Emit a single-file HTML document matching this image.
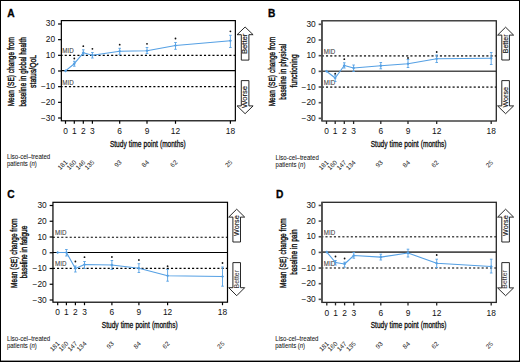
<!DOCTYPE html><html><head><meta charset="utf-8"><style>html,body{margin:0;padding:0;background:#fff;}svg{display:block;}</style></head><body>
<svg width="520" height="362" viewBox="0 0 520 362" font-family='"Liberation Sans", sans-serif'>
<rect x="0" y="0" width="520" height="362" fill="#000"/>
<rect x="1" y="1" width="518" height="359.6" fill="#fff"/>
<text x="7.2" y="16.8" font-size="10.2" font-weight="bold" fill="#000" stroke="#000" stroke-width="0.3">A</text>
<line x1="61.35" y1="55.3" x2="235.35" y2="55.3" stroke="#000" stroke-width="1.2" stroke-dasharray="2.1 2.12" stroke-dashoffset="0.85"/>
<text x="62.25" y="53.2" font-size="6.6" textLength="11.4" lengthAdjust="spacingAndGlyphs" fill="#333" stroke="#333" stroke-width="0.05">MID</text>
<line x1="61.35" y1="86.6" x2="235.35" y2="86.6" stroke="#000" stroke-width="1.2" stroke-dasharray="2.1 2.12" stroke-dashoffset="0.85"/>
<text x="62.25" y="84.5" font-size="6.6" textLength="11.4" lengthAdjust="spacingAndGlyphs" fill="#333" stroke="#333" stroke-width="0.05">MID</text>
<line x1="61.35" y1="70.65" x2="235.35" y2="70.65" stroke="#000" stroke-width="1.2"/>
<rect x="61.35" y="20.6" width="174" height="100.2" fill="none" stroke="#000" stroke-width="1.2"/>
<line x1="58.05" y1="23.99" x2="61.35" y2="23.99" stroke="#000" stroke-width="1.2"/>
<text x="55.15" y="26.49" font-size="8.4" text-anchor="end" fill="#111">30</text>
<line x1="58.05" y1="39.66" x2="61.35" y2="39.66" stroke="#000" stroke-width="1.2"/>
<text x="55.15" y="42.16" font-size="8.4" text-anchor="end" fill="#111">20</text>
<line x1="58.05" y1="55.33" x2="61.35" y2="55.33" stroke="#000" stroke-width="1.2"/>
<text x="55.15" y="57.83" font-size="8.4" text-anchor="end" fill="#111">10</text>
<line x1="58.05" y1="71" x2="61.35" y2="71" stroke="#000" stroke-width="1.2"/>
<text x="55.15" y="73.5" font-size="8.4" text-anchor="end" fill="#111">0</text>
<line x1="58.05" y1="86.67" x2="61.35" y2="86.67" stroke="#000" stroke-width="1.2"/>
<text x="55.15" y="89.17" font-size="8.4" text-anchor="end" fill="#111">−10</text>
<line x1="58.05" y1="102.34" x2="61.35" y2="102.34" stroke="#000" stroke-width="1.2"/>
<text x="55.15" y="104.84" font-size="8.4" text-anchor="end" fill="#111">−20</text>
<line x1="58.05" y1="118.01" x2="61.35" y2="118.01" stroke="#000" stroke-width="1.2"/>
<text x="55.15" y="120.51" font-size="8.4" text-anchor="end" fill="#111">−30</text>
<line x1="65.5" y1="120.8" x2="65.5" y2="123.8" stroke="#000" stroke-width="1.2"/>
<text x="65.5" y="133.9" font-size="8.4" text-anchor="middle" fill="#111">0</text>
<line x1="74.3" y1="120.8" x2="74.3" y2="123.8" stroke="#000" stroke-width="1.2"/>
<text x="74.3" y="133.9" font-size="8.4" text-anchor="middle" fill="#111">1</text>
<line x1="83.3" y1="120.8" x2="83.3" y2="123.8" stroke="#000" stroke-width="1.2"/>
<text x="83.3" y="133.9" font-size="8.4" text-anchor="middle" fill="#111">2</text>
<line x1="92.4" y1="120.8" x2="92.4" y2="123.8" stroke="#000" stroke-width="1.2"/>
<text x="92.4" y="133.9" font-size="8.4" text-anchor="middle" fill="#111">3</text>
<line x1="119.7" y1="120.8" x2="119.7" y2="123.8" stroke="#000" stroke-width="1.2"/>
<text x="119.7" y="133.9" font-size="8.4" text-anchor="middle" fill="#111">6</text>
<line x1="147" y1="120.8" x2="147" y2="123.8" stroke="#000" stroke-width="1.2"/>
<text x="147" y="133.9" font-size="8.4" text-anchor="middle" fill="#111">9</text>
<line x1="175.5" y1="120.8" x2="175.5" y2="123.8" stroke="#000" stroke-width="1.2"/>
<text x="175.5" y="133.9" font-size="8.4" text-anchor="middle" fill="#111">12</text>
<line x1="230.4" y1="120.8" x2="230.4" y2="123.8" stroke="#000" stroke-width="1.2"/>
<text x="230.4" y="133.9" font-size="8.4" text-anchor="middle" fill="#111">18</text>
<text x="109.9" y="146.6" font-size="9.8" textLength="16.85" lengthAdjust="spacingAndGlyphs" fill="#111" stroke="#111" stroke-width="0.35">Study</text>
<text x="128.85" y="146.6" font-size="9.8" textLength="12.6" lengthAdjust="spacingAndGlyphs" fill="#111" stroke="#111" stroke-width="0.35">time</text>
<text x="143.55" y="146.6" font-size="9.8" textLength="14.38" lengthAdjust="spacingAndGlyphs" fill="#111" stroke="#111" stroke-width="0.35">point</text>
<text x="160.03" y="146.6" font-size="9.8" textLength="25.67" lengthAdjust="spacingAndGlyphs" fill="#111" stroke="#111" stroke-width="0.35">(months)</text>
<text x="7.0" y="159.4" font-size="6.3" textLength="43.2" lengthAdjust="spacingAndGlyphs" fill="#111" stroke="#111" stroke-width="0.05">Liso-cel–treated</text>
<text x="7.0" y="166.4" font-size="6.3" textLength="29.8" lengthAdjust="spacingAndGlyphs" fill="#111" stroke="#111" stroke-width="0.05">patients (<tspan font-style="italic">n</tspan>)</text>
<text x="0" y="0" font-size="6.4" text-anchor="end" fill="#1a1a1a" transform="translate(67.9,162.7) rotate(-45)">181</text>
<text x="0" y="0" font-size="6.4" text-anchor="end" fill="#1a1a1a" transform="translate(76.7,162.7) rotate(-45)">160</text>
<text x="0" y="0" font-size="6.4" text-anchor="end" fill="#1a1a1a" transform="translate(85.7,162.7) rotate(-45)">146</text>
<text x="0" y="0" font-size="6.4" text-anchor="end" fill="#1a1a1a" transform="translate(94.8,162.7) rotate(-45)">135</text>
<text x="0" y="0" font-size="6.4" text-anchor="end" fill="#1a1a1a" transform="translate(122.1,162.7) rotate(-45)">93</text>
<text x="0" y="0" font-size="6.4" text-anchor="end" fill="#1a1a1a" transform="translate(149.4,162.7) rotate(-45)">84</text>
<text x="0" y="0" font-size="6.4" text-anchor="end" fill="#1a1a1a" transform="translate(177.9,162.7) rotate(-45)">62</text>
<text x="0" y="0" font-size="6.4" text-anchor="end" fill="#1a1a1a" transform="translate(232.8,162.7) rotate(-45)">25</text>
<text x="0" y="0" font-size="9.6" textLength="16.25" lengthAdjust="spacingAndGlyphs" fill="#111" stroke="#111" stroke-width="0.4" transform="translate(14.3,106.3) rotate(-90)">Mean</text>
<text x="0" y="0" font-size="9.6" textLength="13.11" lengthAdjust="spacingAndGlyphs" fill="#111" stroke="#111" stroke-width="0.4" transform="translate(14.3,88.15) rotate(-90)">(SE)</text>
<text x="0" y="0" font-size="9.6" textLength="21.13" lengthAdjust="spacingAndGlyphs" fill="#111" stroke="#111" stroke-width="0.4" transform="translate(14.3,73.14) rotate(-90)">change</text>
<text x="0" y="0" font-size="9.6" textLength="13.11" lengthAdjust="spacingAndGlyphs" fill="#111" stroke="#111" stroke-width="0.4" transform="translate(14.3,50.11) rotate(-90)">from</text>
<text x="0" y="0" font-size="9.6" textLength="23.56" lengthAdjust="spacingAndGlyphs" fill="#111" stroke="#111" stroke-width="0.4" transform="translate(26,106.4) rotate(-90)">baseline</text>
<text x="0" y="0" font-size="9.6" textLength="5.4" lengthAdjust="spacingAndGlyphs" fill="#111" stroke="#111" stroke-width="0.4" transform="translate(26,80.94) rotate(-90)">in</text>
<text x="0" y="0" font-size="9.6" textLength="17.05" lengthAdjust="spacingAndGlyphs" fill="#111" stroke="#111" stroke-width="0.4" transform="translate(26,73.64) rotate(-90)">global</text>
<text x="0" y="0" font-size="9.6" textLength="17.39" lengthAdjust="spacingAndGlyphs" fill="#111" stroke="#111" stroke-width="0.4" transform="translate(26,54.69) rotate(-90)">health</text>
<text x="0" y="0" font-size="9.6" textLength="33" lengthAdjust="spacingAndGlyphs" fill="#111" stroke="#111" stroke-width="0.4" transform="translate(36.3,87.9) rotate(-90)">status/QoL</text>
<path d="M245.1,27 L253.1,34.7 L248.9,34.7 L248.9,60.1 L241.3,60.1 L241.3,34.7 L237.1,34.7 Z" fill="#fff" stroke="#111" stroke-width="0.9" stroke-linejoin="miter"/>
<path d="M245.1,113.7 L253.1,105.9 L248.9,105.9 L248.9,80.6 L241.3,80.6 L241.3,105.9 L237.1,105.9 Z" fill="#fff" stroke="#111" stroke-width="0.9" stroke-linejoin="miter"/>
<text x="0" y="0" font-size="7" textLength="20.4" lengthAdjust="spacingAndGlyphs" fill="#111" stroke="#111" stroke-width="0.15" transform="translate(247,54) rotate(-90)">Better</text>
<text x="0" y="0" font-size="7" textLength="22" lengthAdjust="spacingAndGlyphs" fill="#111" stroke="#111" stroke-width="0.15" transform="translate(247,107.9) rotate(-90)">Worse</text>
<path d="M65.5,70.9 L74.3,63.7 L83.3,52.8 L92.4,55.2 L119.7,51.2 L147,50.7 L175.5,45.5 L230.4,40.75" fill="none" stroke="#55a0e4" stroke-width="1.1" stroke-linejoin="round"/>
<rect x="64.4" y="69.8" width="2.2" height="2.2" fill="#55a0e4" transform="rotate(45 65.5 70.9)"/>
<path d="M74.3,61.3 V66.2 M73,61.3 H75.6 M73,66.2 H75.6" stroke="#55a0e4" stroke-width="0.9" fill="none"/>
<rect x="73.2" y="62.6" width="2.2" height="2.2" fill="#55a0e4" transform="rotate(45 74.3 63.7)"/>
<path d="M83.3,49.8 V55 M82,49.8 H84.6 M82,55 H84.6" stroke="#55a0e4" stroke-width="0.9" fill="none"/>
<rect x="82.2" y="51.7" width="2.2" height="2.2" fill="#55a0e4" transform="rotate(45 83.3 52.8)"/>
<path d="M92.4,52.5 V58 M91.1,52.5 H93.7 M91.1,58 H93.7" stroke="#55a0e4" stroke-width="0.9" fill="none"/>
<rect x="91.3" y="54.1" width="2.2" height="2.2" fill="#55a0e4" transform="rotate(45 92.4 55.2)"/>
<path d="M119.7,48.3 V54.3 M118.4,48.3 H121 M118.4,54.3 H121" stroke="#55a0e4" stroke-width="0.9" fill="none"/>
<rect x="118.6" y="50.1" width="2.2" height="2.2" fill="#55a0e4" transform="rotate(45 119.7 51.2)"/>
<path d="M147,47.5 V53.5 M145.7,47.5 H148.3 M145.7,53.5 H148.3" stroke="#55a0e4" stroke-width="0.9" fill="none"/>
<rect x="145.9" y="49.6" width="2.2" height="2.2" fill="#55a0e4" transform="rotate(45 147 50.7)"/>
<path d="M175.5,42.5 V49.3 M174.2,42.5 H176.8 M174.2,49.3 H176.8" stroke="#55a0e4" stroke-width="0.9" fill="none"/>
<rect x="174.4" y="44.4" width="2.2" height="2.2" fill="#55a0e4" transform="rotate(45 175.5 45.5)"/>
<path d="M230.4,35.3 V47.5 M229.1,35.3 H231.7 M229.1,47.5 H231.7" stroke="#55a0e4" stroke-width="0.9" fill="none"/>
<rect x="229.3" y="39.65" width="2.2" height="2.2" fill="#55a0e4" transform="rotate(45 230.4 40.75)"/>
<circle cx="74.3" cy="58.5" r="0.9" fill="#111"/>
<circle cx="83.3" cy="46.2" r="0.9" fill="#111"/>
<circle cx="92.4" cy="48.8" r="0.9" fill="#111"/>
<circle cx="119.7" cy="44.7" r="0.9" fill="#111"/>
<circle cx="147" cy="43.8" r="0.9" fill="#111"/>
<circle cx="175.5" cy="38.5" r="0.9" fill="#111"/>
<circle cx="230.4" cy="31.3" r="0.9" fill="#111"/>
<text x="267.9" y="17.2" font-size="10.2" font-weight="bold" fill="#000" stroke="#000" stroke-width="0.3">B</text>
<line x1="321.95" y1="55.85" x2="496.3" y2="55.85" stroke="#4e4e4e" stroke-width="1.6" stroke-dasharray="2.1 2.12" stroke-dashoffset="0.2"/>
<text x="323.75" y="53.75" font-size="6.6" textLength="11.4" lengthAdjust="spacingAndGlyphs" fill="#333" stroke="#333" stroke-width="0.05">MID</text>
<line x1="321.95" y1="87.1" x2="496.3" y2="87.1" stroke="#4e4e4e" stroke-width="1.6" stroke-dasharray="2.1 2.12" stroke-dashoffset="0.2"/>
<text x="323.75" y="85" font-size="6.6" textLength="11.4" lengthAdjust="spacingAndGlyphs" fill="#333" stroke="#333" stroke-width="0.05">MID</text>
<line x1="321.95" y1="71.2" x2="496.3" y2="71.2" stroke="#4e4e4e" stroke-width="1.6"/>
<rect x="321.95" y="20.8" width="174.35" height="100.2" fill="none" stroke="#262626" stroke-width="1.3"/>
<line x1="321.95" y1="20.8" x2="321.95" y2="121" stroke="#4e4e4e" stroke-width="1.6"/>
<line x1="318.65" y1="24.34" x2="321.95" y2="24.34" stroke="#4e4e4e" stroke-width="1.6"/>
<text x="315.75" y="26.84" font-size="8.4" text-anchor="end" fill="#111">30</text>
<line x1="318.65" y1="40.01" x2="321.95" y2="40.01" stroke="#4e4e4e" stroke-width="1.6"/>
<text x="315.75" y="42.51" font-size="8.4" text-anchor="end" fill="#111">20</text>
<line x1="318.65" y1="55.68" x2="321.95" y2="55.68" stroke="#4e4e4e" stroke-width="1.6"/>
<text x="315.75" y="58.18" font-size="8.4" text-anchor="end" fill="#111">10</text>
<line x1="318.65" y1="71.35" x2="321.95" y2="71.35" stroke="#4e4e4e" stroke-width="1.6"/>
<text x="315.75" y="73.85" font-size="8.4" text-anchor="end" fill="#111">0</text>
<line x1="318.65" y1="87.02" x2="321.95" y2="87.02" stroke="#4e4e4e" stroke-width="1.6"/>
<text x="315.75" y="89.52" font-size="8.4" text-anchor="end" fill="#111">−10</text>
<line x1="318.65" y1="102.69" x2="321.95" y2="102.69" stroke="#4e4e4e" stroke-width="1.6"/>
<text x="315.75" y="105.19" font-size="8.4" text-anchor="end" fill="#111">−20</text>
<line x1="318.65" y1="118.36" x2="321.95" y2="118.36" stroke="#4e4e4e" stroke-width="1.6"/>
<text x="315.75" y="120.86" font-size="8.4" text-anchor="end" fill="#111">−30</text>
<line x1="326.5" y1="121" x2="326.5" y2="124" stroke="#262626" stroke-width="1.3"/>
<text x="326.5" y="134.1" font-size="8.4" text-anchor="middle" fill="#111">0</text>
<line x1="335.2" y1="121" x2="335.2" y2="124" stroke="#262626" stroke-width="1.3"/>
<text x="335.2" y="134.1" font-size="8.4" text-anchor="middle" fill="#111">1</text>
<line x1="344.3" y1="121" x2="344.3" y2="124" stroke="#262626" stroke-width="1.3"/>
<text x="344.3" y="134.1" font-size="8.4" text-anchor="middle" fill="#111">2</text>
<line x1="353.6" y1="121" x2="353.6" y2="124" stroke="#262626" stroke-width="1.3"/>
<text x="353.6" y="134.1" font-size="8.4" text-anchor="middle" fill="#111">3</text>
<line x1="380.8" y1="121" x2="380.8" y2="124" stroke="#262626" stroke-width="1.3"/>
<text x="380.8" y="134.1" font-size="8.4" text-anchor="middle" fill="#111">6</text>
<line x1="408" y1="121" x2="408" y2="124" stroke="#262626" stroke-width="1.3"/>
<text x="408" y="134.1" font-size="8.4" text-anchor="middle" fill="#111">9</text>
<line x1="436.7" y1="121" x2="436.7" y2="124" stroke="#262626" stroke-width="1.3"/>
<text x="436.7" y="134.1" font-size="8.4" text-anchor="middle" fill="#111">12</text>
<line x1="491.2" y1="121" x2="491.2" y2="124" stroke="#262626" stroke-width="1.3"/>
<text x="491.2" y="134.1" font-size="8.4" text-anchor="middle" fill="#111">18</text>
<text x="370.68" y="146.8" font-size="9.8" textLength="16.85" lengthAdjust="spacingAndGlyphs" fill="#111" stroke="#111" stroke-width="0.35">Study</text>
<text x="389.62" y="146.8" font-size="9.8" textLength="12.6" lengthAdjust="spacingAndGlyphs" fill="#111" stroke="#111" stroke-width="0.35">time</text>
<text x="404.33" y="146.8" font-size="9.8" textLength="14.38" lengthAdjust="spacingAndGlyphs" fill="#111" stroke="#111" stroke-width="0.35">point</text>
<text x="420.81" y="146.8" font-size="9.8" textLength="25.67" lengthAdjust="spacingAndGlyphs" fill="#111" stroke="#111" stroke-width="0.35">(months)</text>
<text x="275.6" y="159.6" font-size="6.3" textLength="43.2" lengthAdjust="spacingAndGlyphs" fill="#111" stroke="#111" stroke-width="0.05">Liso-cel–treated</text>
<text x="275.6" y="166.6" font-size="6.3" textLength="29.8" lengthAdjust="spacingAndGlyphs" fill="#111" stroke="#111" stroke-width="0.05">patients (<tspan font-style="italic">n</tspan>)</text>
<text x="0" y="0" font-size="6.4" text-anchor="end" fill="#1a1a1a" transform="translate(328.9,162.9) rotate(-45)">181</text>
<text x="0" y="0" font-size="6.4" text-anchor="end" fill="#1a1a1a" transform="translate(337.6,162.9) rotate(-45)">160</text>
<text x="0" y="0" font-size="6.4" text-anchor="end" fill="#1a1a1a" transform="translate(346.7,162.9) rotate(-45)">147</text>
<text x="0" y="0" font-size="6.4" text-anchor="end" fill="#1a1a1a" transform="translate(356,162.9) rotate(-45)">134</text>
<text x="0" y="0" font-size="6.4" text-anchor="end" fill="#1a1a1a" transform="translate(383.2,162.9) rotate(-45)">93</text>
<text x="0" y="0" font-size="6.4" text-anchor="end" fill="#1a1a1a" transform="translate(410.4,162.9) rotate(-45)">84</text>
<text x="0" y="0" font-size="6.4" text-anchor="end" fill="#1a1a1a" transform="translate(439.1,162.9) rotate(-45)">62</text>
<text x="0" y="0" font-size="6.4" text-anchor="end" fill="#1a1a1a" transform="translate(493.6,162.9) rotate(-45)">25</text>
<text x="0" y="0" font-size="9.6" textLength="16.28" lengthAdjust="spacingAndGlyphs" fill="#111" stroke="#111" stroke-width="0.4" transform="translate(275.4,106.3) rotate(-90)">Mean</text>
<text x="0" y="0" font-size="9.6" textLength="13.13" lengthAdjust="spacingAndGlyphs" fill="#111" stroke="#111" stroke-width="0.4" transform="translate(275.4,88.12) rotate(-90)">(SE)</text>
<text x="0" y="0" font-size="9.6" textLength="21.16" lengthAdjust="spacingAndGlyphs" fill="#111" stroke="#111" stroke-width="0.4" transform="translate(275.4,73.09) rotate(-90)">change</text>
<text x="0" y="0" font-size="9.6" textLength="13.13" lengthAdjust="spacingAndGlyphs" fill="#111" stroke="#111" stroke-width="0.4" transform="translate(275.4,50.03) rotate(-90)">from</text>
<text x="0" y="0" font-size="9.6" textLength="23.73" lengthAdjust="spacingAndGlyphs" fill="#111" stroke="#111" stroke-width="0.4" transform="translate(286.1,99.7) rotate(-90)">baseline</text>
<text x="0" y="0" font-size="9.6" textLength="5.43" lengthAdjust="spacingAndGlyphs" fill="#111" stroke="#111" stroke-width="0.4" transform="translate(286.1,74.07) rotate(-90)">in</text>
<text x="0" y="0" font-size="9.6" textLength="23.03" lengthAdjust="spacingAndGlyphs" fill="#111" stroke="#111" stroke-width="0.4" transform="translate(286.1,66.73) rotate(-90)">physical</text>
<text x="0" y="0" font-size="9.6" textLength="33.1" lengthAdjust="spacingAndGlyphs" fill="#111" stroke="#111" stroke-width="0.4" transform="translate(296.7,87.4) rotate(-90)">functioning</text>
<path d="M505.6,27.2 L513.6,35.1 L509.4,35.1 L509.4,60 L501.8,60 L501.8,35.1 L497.6,35.1 Z" fill="#fff" stroke="#111" stroke-width="0.9" stroke-linejoin="miter"/>
<path d="M505.6,113.7 L513.6,105.9 L509.4,105.9 L509.4,80.6 L501.8,80.6 L501.8,105.9 L497.6,105.9 Z" fill="#fff" stroke="#111" stroke-width="0.9" stroke-linejoin="miter"/>
<text x="0" y="0" font-size="7" textLength="18.8" lengthAdjust="spacingAndGlyphs" fill="#111" stroke="#111" stroke-width="0.15" transform="translate(507.5,53.3) rotate(-90)">Better</text>
<text x="0" y="0" font-size="7" textLength="20.6" lengthAdjust="spacingAndGlyphs" fill="#111" stroke="#111" stroke-width="0.15" transform="translate(507.5,107.6) rotate(-90)">Worse</text>
<path d="M326.5,71.2 L335.2,78 L344.3,65.5 L353.6,68 L380.8,65.75 L408,63.75 L436.7,58.75 L491.2,58.25" fill="none" stroke="#55a0e4" stroke-width="1.1" stroke-linejoin="round"/>
<rect x="325.4" y="70.1" width="2.2" height="2.2" fill="#55a0e4" transform="rotate(45 326.5 71.2)"/>
<path d="M335.2,75 V81.5 M333.9,75 H336.5 M333.9,81.5 H336.5" stroke="#55a0e4" stroke-width="0.9" fill="none"/>
<rect x="334.1" y="76.9" width="2.2" height="2.2" fill="#55a0e4" transform="rotate(45 335.2 78)"/>
<path d="M344.3,62.8 V68 M343,62.8 H345.6 M343,68 H345.6" stroke="#55a0e4" stroke-width="0.9" fill="none"/>
<rect x="343.2" y="64.4" width="2.2" height="2.2" fill="#55a0e4" transform="rotate(45 344.3 65.5)"/>
<path d="M353.6,65 V71.5 M352.3,65 H354.9 M352.3,71.5 H354.9" stroke="#55a0e4" stroke-width="0.9" fill="none"/>
<rect x="352.5" y="66.9" width="2.2" height="2.2" fill="#55a0e4" transform="rotate(45 353.6 68)"/>
<path d="M380.8,62.5 V68.8 M379.5,62.5 H382.1 M379.5,68.8 H382.1" stroke="#55a0e4" stroke-width="0.9" fill="none"/>
<rect x="379.7" y="64.65" width="2.2" height="2.2" fill="#55a0e4" transform="rotate(45 380.8 65.75)"/>
<path d="M408,59.5 V67.5 M406.7,59.5 H409.3 M406.7,67.5 H409.3" stroke="#55a0e4" stroke-width="0.9" fill="none"/>
<rect x="406.9" y="62.65" width="2.2" height="2.2" fill="#55a0e4" transform="rotate(45 408 63.75)"/>
<path d="M436.7,55 V62.5 M435.4,55 H438 M435.4,62.5 H438" stroke="#55a0e4" stroke-width="0.9" fill="none"/>
<rect x="435.6" y="57.65" width="2.2" height="2.2" fill="#55a0e4" transform="rotate(45 436.7 58.75)"/>
<path d="M491.2,52.5 V64.5 M489.9,52.5 H492.5 M489.9,64.5 H492.5" stroke="#55a0e4" stroke-width="0.9" fill="none"/>
<rect x="490.1" y="57.15" width="2.2" height="2.2" fill="#55a0e4" transform="rotate(45 491.2 58.25)"/>
<circle cx="335.2" cy="73.7" r="0.9" fill="#111"/>
<circle cx="344.3" cy="59.2" r="0.9" fill="#111"/>
<circle cx="408" cy="58" r="0.9" fill="#111"/>
<circle cx="436.7" cy="52" r="0.9" fill="#111"/>
<text x="7.3" y="198.1" font-size="10.2" font-weight="bold" fill="#000" stroke="#000" stroke-width="0.3">C</text>
<line x1="52.95" y1="237.25" x2="227.5" y2="237.25" stroke="#000" stroke-width="1.2" stroke-dasharray="2.1 2.12" stroke-dashoffset="0.15"/>
<text x="55.05" y="235.15" font-size="6.6" textLength="11.4" lengthAdjust="spacingAndGlyphs" fill="#333" stroke="#333" stroke-width="0.05">MID</text>
<line x1="52.95" y1="268.4" x2="227.5" y2="268.4" stroke="#000" stroke-width="1.2" stroke-dasharray="2.1 2.12" stroke-dashoffset="0.15"/>
<text x="55.05" y="266.3" font-size="6.6" textLength="11.4" lengthAdjust="spacingAndGlyphs" fill="#333" stroke="#333" stroke-width="0.05">MID</text>
<line x1="52.95" y1="252.5" x2="227.5" y2="252.5" stroke="#000" stroke-width="1.2"/>
<rect x="52.95" y="202.3" width="174.55" height="99.9" fill="none" stroke="#000" stroke-width="1.2"/>
<line x1="49.65" y1="205.5" x2="52.95" y2="205.5" stroke="#000" stroke-width="1.2"/>
<text x="46.75" y="208" font-size="8.4" text-anchor="end" fill="#111">30</text>
<line x1="49.65" y1="221.25" x2="52.95" y2="221.25" stroke="#000" stroke-width="1.2"/>
<text x="46.75" y="223.75" font-size="8.4" text-anchor="end" fill="#111">20</text>
<line x1="49.65" y1="237" x2="52.95" y2="237" stroke="#000" stroke-width="1.2"/>
<text x="46.75" y="239.5" font-size="8.4" text-anchor="end" fill="#111">10</text>
<line x1="49.65" y1="252.75" x2="52.95" y2="252.75" stroke="#000" stroke-width="1.2"/>
<text x="46.75" y="255.25" font-size="8.4" text-anchor="end" fill="#111">0</text>
<line x1="49.65" y1="268.5" x2="52.95" y2="268.5" stroke="#000" stroke-width="1.2"/>
<text x="46.75" y="271" font-size="8.4" text-anchor="end" fill="#111">−10</text>
<line x1="49.65" y1="284.25" x2="52.95" y2="284.25" stroke="#000" stroke-width="1.2"/>
<text x="46.75" y="286.75" font-size="8.4" text-anchor="end" fill="#111">−20</text>
<line x1="49.65" y1="300" x2="52.95" y2="300" stroke="#000" stroke-width="1.2"/>
<text x="46.75" y="302.5" font-size="8.4" text-anchor="end" fill="#111">−30</text>
<line x1="57.7" y1="302.2" x2="57.7" y2="305.2" stroke="#000" stroke-width="1.2"/>
<text x="57.7" y="315.3" font-size="8.4" text-anchor="middle" fill="#111">0</text>
<line x1="66.4" y1="302.2" x2="66.4" y2="305.2" stroke="#000" stroke-width="1.2"/>
<text x="66.4" y="315.3" font-size="8.4" text-anchor="middle" fill="#111">1</text>
<line x1="75.4" y1="302.2" x2="75.4" y2="305.2" stroke="#000" stroke-width="1.2"/>
<text x="75.4" y="315.3" font-size="8.4" text-anchor="middle" fill="#111">2</text>
<line x1="84.5" y1="302.2" x2="84.5" y2="305.2" stroke="#000" stroke-width="1.2"/>
<text x="84.5" y="315.3" font-size="8.4" text-anchor="middle" fill="#111">3</text>
<line x1="111.9" y1="302.2" x2="111.9" y2="305.2" stroke="#000" stroke-width="1.2"/>
<text x="111.9" y="315.3" font-size="8.4" text-anchor="middle" fill="#111">6</text>
<line x1="138.9" y1="302.2" x2="138.9" y2="305.2" stroke="#000" stroke-width="1.2"/>
<text x="138.9" y="315.3" font-size="8.4" text-anchor="middle" fill="#111">9</text>
<line x1="167.6" y1="302.2" x2="167.6" y2="305.2" stroke="#000" stroke-width="1.2"/>
<text x="167.6" y="315.3" font-size="8.4" text-anchor="middle" fill="#111">12</text>
<line x1="222.5" y1="302.2" x2="222.5" y2="305.2" stroke="#000" stroke-width="1.2"/>
<text x="222.5" y="315.3" font-size="8.4" text-anchor="middle" fill="#111">18</text>
<text x="101.77" y="328" font-size="9.8" textLength="16.85" lengthAdjust="spacingAndGlyphs" fill="#111" stroke="#111" stroke-width="0.35">Study</text>
<text x="120.72" y="328" font-size="9.8" textLength="12.6" lengthAdjust="spacingAndGlyphs" fill="#111" stroke="#111" stroke-width="0.35">time</text>
<text x="135.43" y="328" font-size="9.8" textLength="14.38" lengthAdjust="spacingAndGlyphs" fill="#111" stroke="#111" stroke-width="0.35">point</text>
<text x="151.91" y="328" font-size="9.8" textLength="25.67" lengthAdjust="spacingAndGlyphs" fill="#111" stroke="#111" stroke-width="0.35">(months)</text>
<text x="7.0" y="340.8" font-size="6.3" textLength="43.2" lengthAdjust="spacingAndGlyphs" fill="#111" stroke="#111" stroke-width="0.05">Liso-cel–treated</text>
<text x="7.0" y="347.8" font-size="6.3" textLength="29.8" lengthAdjust="spacingAndGlyphs" fill="#111" stroke="#111" stroke-width="0.05">patients (<tspan font-style="italic">n</tspan>)</text>
<text x="0" y="0" font-size="6.4" text-anchor="end" fill="#1a1a1a" transform="translate(60.1,344.1) rotate(-45)">181</text>
<text x="0" y="0" font-size="6.4" text-anchor="end" fill="#1a1a1a" transform="translate(68.8,344.1) rotate(-45)">160</text>
<text x="0" y="0" font-size="6.4" text-anchor="end" fill="#1a1a1a" transform="translate(77.8,344.1) rotate(-45)">147</text>
<text x="0" y="0" font-size="6.4" text-anchor="end" fill="#1a1a1a" transform="translate(86.9,344.1) rotate(-45)">134</text>
<text x="0" y="0" font-size="6.4" text-anchor="end" fill="#1a1a1a" transform="translate(114.3,344.1) rotate(-45)">93</text>
<text x="0" y="0" font-size="6.4" text-anchor="end" fill="#1a1a1a" transform="translate(141.3,344.1) rotate(-45)">84</text>
<text x="0" y="0" font-size="6.4" text-anchor="end" fill="#1a1a1a" transform="translate(170,344.1) rotate(-45)">62</text>
<text x="0" y="0" font-size="6.4" text-anchor="end" fill="#1a1a1a" transform="translate(224.9,344.1) rotate(-45)">25</text>
<text x="0" y="0" font-size="9.6" textLength="16.28" lengthAdjust="spacingAndGlyphs" fill="#111" stroke="#111" stroke-width="0.4" transform="translate(16.8,287.9) rotate(-90)">Mean</text>
<text x="0" y="0" font-size="9.6" textLength="13.13" lengthAdjust="spacingAndGlyphs" fill="#111" stroke="#111" stroke-width="0.4" transform="translate(16.8,269.72) rotate(-90)">(SE)</text>
<text x="0" y="0" font-size="9.6" textLength="21.16" lengthAdjust="spacingAndGlyphs" fill="#111" stroke="#111" stroke-width="0.4" transform="translate(16.8,254.69) rotate(-90)">change</text>
<text x="0" y="0" font-size="9.6" textLength="13.13" lengthAdjust="spacingAndGlyphs" fill="#111" stroke="#111" stroke-width="0.4" transform="translate(16.8,231.63) rotate(-90)">from</text>
<text x="0" y="0" font-size="9.6" textLength="23.88" lengthAdjust="spacingAndGlyphs" fill="#111" stroke="#111" stroke-width="0.4" transform="translate(27.2,278.2) rotate(-90)">baseline</text>
<text x="0" y="0" font-size="9.6" textLength="5.46" lengthAdjust="spacingAndGlyphs" fill="#111" stroke="#111" stroke-width="0.4" transform="translate(27.2,252.42) rotate(-90)">in</text>
<text x="0" y="0" font-size="9.6" textLength="19.36" lengthAdjust="spacingAndGlyphs" fill="#111" stroke="#111" stroke-width="0.4" transform="translate(27.2,245.06) rotate(-90)">fatigue</text>
<path d="M236.7,209.2 L244.7,217.1 L240.5,217.1 L240.5,242 L232.9,242 L232.9,217.1 L228.7,217.1 Z" fill="#fff" stroke="#111" stroke-width="0.9" stroke-linejoin="miter"/>
<path d="M236.7,295.7 L244.7,287.7 L240.5,287.7 L240.5,262.6 L232.9,262.6 L232.9,287.7 L228.7,287.7 Z" fill="#fff" stroke="#111" stroke-width="0.9" stroke-linejoin="miter"/>
<text x="0" y="0" font-size="7" textLength="20.6" lengthAdjust="spacingAndGlyphs" fill="#111" stroke="#111" stroke-width="0.15" transform="translate(238.6,235.9) rotate(-90)">Worse</text>
<text x="0" y="0" font-size="6.6" textLength="18.4" lengthAdjust="spacingAndGlyphs" fill="#333" transform="translate(238.5,288.4) rotate(-90)">Better</text>
<path d="M57.7,252.5 L66.4,252.5 L75.4,268.5 L84.5,264.5 L111.9,265 L138.9,268.25 L167.6,275.75 L222.5,276.5" fill="none" stroke="#55a0e4" stroke-width="1.1" stroke-linejoin="round"/>
<rect x="56.6" y="251.4" width="2.2" height="2.2" fill="#55a0e4" transform="rotate(45 57.7 252.5)"/>
<path d="M66.4,249.5 V256 M65.1,249.5 H67.7 M65.1,256 H67.7" stroke="#55a0e4" stroke-width="0.9" fill="none"/>
<rect x="65.3" y="251.4" width="2.2" height="2.2" fill="#55a0e4" transform="rotate(45 66.4 252.5)"/>
<path d="M75.4,266 V272 M74.1,266 H76.7 M74.1,272 H76.7" stroke="#55a0e4" stroke-width="0.9" fill="none"/>
<rect x="74.3" y="267.4" width="2.2" height="2.2" fill="#55a0e4" transform="rotate(45 75.4 268.5)"/>
<path d="M84.5,261.5 V268.5 M83.2,261.5 H85.8 M83.2,268.5 H85.8" stroke="#55a0e4" stroke-width="0.9" fill="none"/>
<rect x="83.4" y="263.4" width="2.2" height="2.2" fill="#55a0e4" transform="rotate(45 84.5 264.5)"/>
<path d="M111.9,260.5 V269.5 M110.6,260.5 H113.2 M110.6,269.5 H113.2" stroke="#55a0e4" stroke-width="0.9" fill="none"/>
<rect x="110.8" y="263.9" width="2.2" height="2.2" fill="#55a0e4" transform="rotate(45 111.9 265)"/>
<path d="M138.9,263.7 V272.5 M137.6,263.7 H140.2 M137.6,272.5 H140.2" stroke="#55a0e4" stroke-width="0.9" fill="none"/>
<rect x="137.8" y="267.15" width="2.2" height="2.2" fill="#55a0e4" transform="rotate(45 138.9 268.25)"/>
<path d="M167.6,269.5 V281.2 M166.3,269.5 H168.9 M166.3,281.2 H168.9" stroke="#55a0e4" stroke-width="0.9" fill="none"/>
<rect x="166.5" y="274.65" width="2.2" height="2.2" fill="#55a0e4" transform="rotate(45 167.6 275.75)"/>
<path d="M222.5,267 V286.2 M221.2,267 H223.8 M221.2,286.2 H223.8" stroke="#55a0e4" stroke-width="0.9" fill="none"/>
<rect x="221.4" y="275.4" width="2.2" height="2.2" fill="#55a0e4" transform="rotate(45 222.5 276.5)"/>
<circle cx="75.4" cy="261.5" r="0.9" fill="#111"/>
<circle cx="84.5" cy="257.2" r="0.9" fill="#111"/>
<circle cx="111.9" cy="257" r="0.9" fill="#111"/>
<circle cx="138.9" cy="260" r="0.9" fill="#111"/>
<circle cx="167.6" cy="266.2" r="0.9" fill="#111"/>
<circle cx="222.5" cy="263" r="0.9" fill="#111"/>
<text x="276.0" y="198.2" font-size="10.2" font-weight="bold" fill="#000" stroke="#000" stroke-width="0.3">D</text>
<line x1="321.95" y1="236.75" x2="496.3" y2="236.75" stroke="#4e4e4e" stroke-width="1.6" stroke-dasharray="2.1 2.12" stroke-dashoffset="0.7"/>
<text x="323.75" y="234.65" font-size="6.6" textLength="11.4" lengthAdjust="spacingAndGlyphs" fill="#333" stroke="#333" stroke-width="0.05">MID</text>
<line x1="321.95" y1="268" x2="496.3" y2="268" stroke="#4e4e4e" stroke-width="1.6" stroke-dasharray="2.1 2.12" stroke-dashoffset="0.7"/>
<text x="323.75" y="265.9" font-size="6.6" textLength="11.4" lengthAdjust="spacingAndGlyphs" fill="#333" stroke="#333" stroke-width="0.05">MID</text>
<line x1="321.95" y1="252.1" x2="496.3" y2="252.1" stroke="#4e4e4e" stroke-width="1.6"/>
<rect x="321.95" y="202.3" width="174.35" height="100.1" fill="none" stroke="#262626" stroke-width="1.3"/>
<line x1="321.95" y1="202.3" x2="321.95" y2="302.4" stroke="#4e4e4e" stroke-width="1.6"/>
<line x1="318.65" y1="205.45" x2="321.95" y2="205.45" stroke="#4e4e4e" stroke-width="1.6"/>
<text x="315.75" y="207.95" font-size="8.4" text-anchor="end" fill="#111">30</text>
<line x1="318.65" y1="221.1" x2="321.95" y2="221.1" stroke="#4e4e4e" stroke-width="1.6"/>
<text x="315.75" y="223.6" font-size="8.4" text-anchor="end" fill="#111">20</text>
<line x1="318.65" y1="236.75" x2="321.95" y2="236.75" stroke="#4e4e4e" stroke-width="1.6"/>
<text x="315.75" y="239.25" font-size="8.4" text-anchor="end" fill="#111">10</text>
<line x1="318.65" y1="252.4" x2="321.95" y2="252.4" stroke="#4e4e4e" stroke-width="1.6"/>
<text x="315.75" y="254.9" font-size="8.4" text-anchor="end" fill="#111">0</text>
<line x1="318.65" y1="268.05" x2="321.95" y2="268.05" stroke="#4e4e4e" stroke-width="1.6"/>
<text x="315.75" y="270.55" font-size="8.4" text-anchor="end" fill="#111">−10</text>
<line x1="318.65" y1="283.7" x2="321.95" y2="283.7" stroke="#4e4e4e" stroke-width="1.6"/>
<text x="315.75" y="286.2" font-size="8.4" text-anchor="end" fill="#111">−20</text>
<line x1="318.65" y1="299.35" x2="321.95" y2="299.35" stroke="#4e4e4e" stroke-width="1.6"/>
<text x="315.75" y="301.85" font-size="8.4" text-anchor="end" fill="#111">−30</text>
<line x1="326.8" y1="302.4" x2="326.8" y2="305.4" stroke="#262626" stroke-width="1.3"/>
<text x="326.8" y="315.5" font-size="8.4" text-anchor="middle" fill="#111">0</text>
<line x1="335.5" y1="302.4" x2="335.5" y2="305.4" stroke="#262626" stroke-width="1.3"/>
<text x="335.5" y="315.5" font-size="8.4" text-anchor="middle" fill="#111">1</text>
<line x1="344.6" y1="302.4" x2="344.6" y2="305.4" stroke="#262626" stroke-width="1.3"/>
<text x="344.6" y="315.5" font-size="8.4" text-anchor="middle" fill="#111">2</text>
<line x1="353.8" y1="302.4" x2="353.8" y2="305.4" stroke="#262626" stroke-width="1.3"/>
<text x="353.8" y="315.5" font-size="8.4" text-anchor="middle" fill="#111">3</text>
<line x1="380.8" y1="302.4" x2="380.8" y2="305.4" stroke="#262626" stroke-width="1.3"/>
<text x="380.8" y="315.5" font-size="8.4" text-anchor="middle" fill="#111">6</text>
<line x1="408" y1="302.4" x2="408" y2="305.4" stroke="#262626" stroke-width="1.3"/>
<text x="408" y="315.5" font-size="8.4" text-anchor="middle" fill="#111">9</text>
<line x1="436.7" y1="302.4" x2="436.7" y2="305.4" stroke="#262626" stroke-width="1.3"/>
<text x="436.7" y="315.5" font-size="8.4" text-anchor="middle" fill="#111">12</text>
<line x1="491.2" y1="302.4" x2="491.2" y2="305.4" stroke="#262626" stroke-width="1.3"/>
<text x="491.2" y="315.5" font-size="8.4" text-anchor="middle" fill="#111">18</text>
<text x="370.68" y="328.2" font-size="9.8" textLength="16.85" lengthAdjust="spacingAndGlyphs" fill="#111" stroke="#111" stroke-width="0.35">Study</text>
<text x="389.62" y="328.2" font-size="9.8" textLength="12.6" lengthAdjust="spacingAndGlyphs" fill="#111" stroke="#111" stroke-width="0.35">time</text>
<text x="404.33" y="328.2" font-size="9.8" textLength="14.38" lengthAdjust="spacingAndGlyphs" fill="#111" stroke="#111" stroke-width="0.35">point</text>
<text x="420.81" y="328.2" font-size="9.8" textLength="25.67" lengthAdjust="spacingAndGlyphs" fill="#111" stroke="#111" stroke-width="0.35">(months)</text>
<text x="275.3" y="341" font-size="6.3" textLength="43.2" lengthAdjust="spacingAndGlyphs" fill="#111" stroke="#111" stroke-width="0.05">Liso-cel–treated</text>
<text x="275.3" y="348" font-size="6.3" textLength="29.8" lengthAdjust="spacingAndGlyphs" fill="#111" stroke="#111" stroke-width="0.05">patients (<tspan font-style="italic">n</tspan>)</text>
<text x="0" y="0" font-size="6.4" text-anchor="end" fill="#1a1a1a" transform="translate(329.2,344.3) rotate(-45)">181</text>
<text x="0" y="0" font-size="6.4" text-anchor="end" fill="#1a1a1a" transform="translate(337.9,344.3) rotate(-45)">160</text>
<text x="0" y="0" font-size="6.4" text-anchor="end" fill="#1a1a1a" transform="translate(347,344.3) rotate(-45)">147</text>
<text x="0" y="0" font-size="6.4" text-anchor="end" fill="#1a1a1a" transform="translate(356.2,344.3) rotate(-45)">135</text>
<text x="0" y="0" font-size="6.4" text-anchor="end" fill="#1a1a1a" transform="translate(383.2,344.3) rotate(-45)">93</text>
<text x="0" y="0" font-size="6.4" text-anchor="end" fill="#1a1a1a" transform="translate(410.4,344.3) rotate(-45)">84</text>
<text x="0" y="0" font-size="6.4" text-anchor="end" fill="#1a1a1a" transform="translate(439.1,344.3) rotate(-45)">62</text>
<text x="0" y="0" font-size="6.4" text-anchor="end" fill="#1a1a1a" transform="translate(493.6,344.3) rotate(-45)">25</text>
<text x="0" y="0" font-size="9.6" textLength="16.35" lengthAdjust="spacingAndGlyphs" fill="#111" stroke="#111" stroke-width="0.4" transform="translate(286.2,287.9) rotate(-90)">Mean</text>
<text x="0" y="0" font-size="9.6" textLength="13.19" lengthAdjust="spacingAndGlyphs" fill="#111" stroke="#111" stroke-width="0.4" transform="translate(286.2,269.65) rotate(-90)">(SE)</text>
<text x="0" y="0" font-size="9.6" textLength="21.26" lengthAdjust="spacingAndGlyphs" fill="#111" stroke="#111" stroke-width="0.4" transform="translate(286.2,254.55) rotate(-90)">change</text>
<text x="0" y="0" font-size="9.6" textLength="13.19" lengthAdjust="spacingAndGlyphs" fill="#111" stroke="#111" stroke-width="0.4" transform="translate(286.2,231.39) rotate(-90)">from</text>
<text x="0" y="0" font-size="9.6" textLength="23.67" lengthAdjust="spacingAndGlyphs" fill="#111" stroke="#111" stroke-width="0.4" transform="translate(296.7,274.7) rotate(-90)">baseline</text>
<text x="0" y="0" font-size="9.6" textLength="5.42" lengthAdjust="spacingAndGlyphs" fill="#111" stroke="#111" stroke-width="0.4" transform="translate(296.7,249.13) rotate(-90)">in</text>
<text x="0" y="0" font-size="9.6" textLength="12.31" lengthAdjust="spacingAndGlyphs" fill="#111" stroke="#111" stroke-width="0.4" transform="translate(296.7,241.81) rotate(-90)">pain</text>
<path d="M505.6,209.2 L513.6,217.1 L509.4,217.1 L509.4,242 L501.8,242 L501.8,217.1 L497.6,217.1 Z" fill="#fff" stroke="#111" stroke-width="0.9" stroke-linejoin="miter"/>
<path d="M505.6,295.7 L513.6,287.9 L509.4,287.9 L509.4,262.6 L501.8,262.6 L501.8,287.9 L497.6,287.9 Z" fill="#fff" stroke="#111" stroke-width="0.9" stroke-linejoin="miter"/>
<text x="0" y="0" font-size="7" textLength="20.6" lengthAdjust="spacingAndGlyphs" fill="#111" stroke="#111" stroke-width="0.15" transform="translate(507.5,235.9) rotate(-90)">Worse</text>
<text x="0" y="0" font-size="6.6" textLength="18.5" lengthAdjust="spacingAndGlyphs" fill="#333" transform="translate(507.4,288.7) rotate(-90)">Better</text>
<path d="M326.8,252.1 L335.5,262.5 L344.6,264 L353.8,255.5 L380.8,257.1 L408,253 L436.7,263.25 L491.2,266.5" fill="none" stroke="#55a0e4" stroke-width="1.1" stroke-linejoin="round"/>
<rect x="325.7" y="251" width="2.2" height="2.2" fill="#55a0e4" transform="rotate(45 326.8 252.1)"/>
<path d="M335.5,260.5 V265 M334.2,260.5 H336.8 M334.2,265 H336.8" stroke="#55a0e4" stroke-width="0.9" fill="none"/>
<rect x="334.4" y="261.4" width="2.2" height="2.2" fill="#55a0e4" transform="rotate(45 335.5 262.5)"/>
<path d="M344.6,262.2 V267.2 M343.3,262.2 H345.9 M343.3,267.2 H345.9" stroke="#55a0e4" stroke-width="0.9" fill="none"/>
<rect x="343.5" y="262.9" width="2.2" height="2.2" fill="#55a0e4" transform="rotate(45 344.6 264)"/>
<path d="M353.8,252.5 V258.2 M352.5,252.5 H355.1 M352.5,258.2 H355.1" stroke="#55a0e4" stroke-width="0.9" fill="none"/>
<rect x="352.7" y="254.4" width="2.2" height="2.2" fill="#55a0e4" transform="rotate(45 353.8 255.5)"/>
<path d="M380.8,254.2 V260 M379.5,254.2 H382.1 M379.5,260 H382.1" stroke="#55a0e4" stroke-width="0.9" fill="none"/>
<rect x="379.7" y="256" width="2.2" height="2.2" fill="#55a0e4" transform="rotate(45 380.8 257.1)"/>
<path d="M408,249.2 V257 M406.7,249.2 H409.3 M406.7,257 H409.3" stroke="#55a0e4" stroke-width="0.9" fill="none"/>
<rect x="406.9" y="251.9" width="2.2" height="2.2" fill="#55a0e4" transform="rotate(45 408 253)"/>
<path d="M436.7,259.2 V267.5 M435.4,259.2 H438 M435.4,267.5 H438" stroke="#55a0e4" stroke-width="0.9" fill="none"/>
<rect x="435.6" y="262.15" width="2.2" height="2.2" fill="#55a0e4" transform="rotate(45 436.7 263.25)"/>
<path d="M491.2,259.2 V273 M489.9,259.2 H492.5 M489.9,273 H492.5" stroke="#55a0e4" stroke-width="0.9" fill="none"/>
<rect x="490.1" y="265.4" width="2.2" height="2.2" fill="#55a0e4" transform="rotate(45 491.2 266.5)"/>
<circle cx="335.5" cy="256.5" r="0.9" fill="#111"/>
<circle cx="344.6" cy="258.5" r="0.9" fill="#111"/>
<circle cx="436.7" cy="255" r="0.9" fill="#111"/>
</svg></body></html>
